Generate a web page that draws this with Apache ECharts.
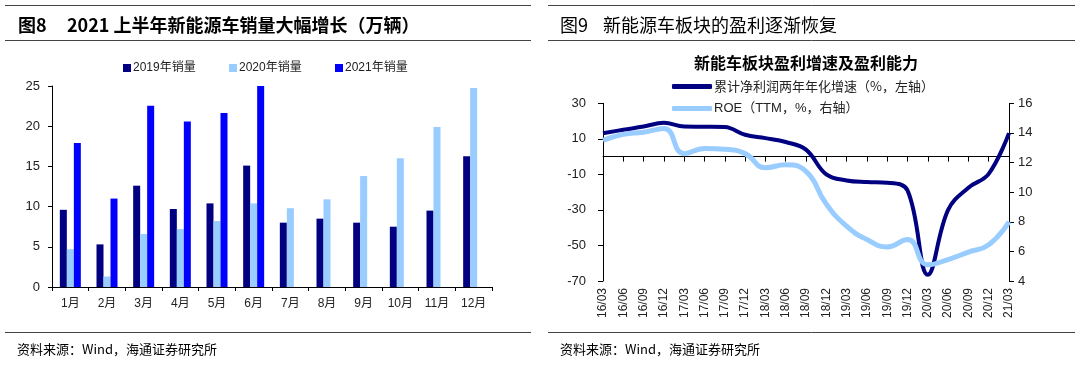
<!DOCTYPE html>
<html>
<head>
<meta charset="utf-8">
<script src="https://cdn.jsdelivr.net/npm/echarts@6/dist/echarts.min.js"></script>
<style>
html,body{margin:0;padding:0;background:#fff;}
#c{width:1080px;height:365px;}
</style>
</head>
<body>
<div id="c"></div>
<script>
// ---- Left chart data (万辆) ----
const months = ['1月','2月','3月','4月','5月','6月','7月','8月','9月','10月','11月','12月'];
const sales2019 = [9.6, 5.3, 12.6, 9.7, 10.4, 15.1, 8.0, 8.5, 8.0, 7.5, 9.5, 16.25];
const sales2020 = [4.7, 1.3, 6.6, 7.2, 8.2, 10.4, 9.8, 10.9, 13.8, 16.0, 19.9, 24.75];
const sales2021 = [17.9, 11.0, 22.55, 20.6, 21.65, 25.0, null, null, null, null, null, null];
const salesNames = ['2019年销量', '2020年销量', '2021年销量'];

// ---- Right chart data ----
const quarters = ['16/03','16/06','16/09','16/12','17/03','17/06','17/09','17/12','18/03','18/06','18/09','18/12','19/03','19/06','19/09','19/12','20/03','20/06','20/09','20/12','21/03'];
const profitGrowth = [13.2, 15.1, 16.9, 19.0, 16.9, 16.8, 16.6, 12.3, 10.4, 8.2, 3.9, -10.0, -13.4, -14.3, -14.7, -19.0, -66.5, -30.0, -17.5, -9.7, 13.2];
const roe = [13.5, 13.9, 14.05, 14.3, 12.6, 12.95, 12.9, 12.6, 11.65, 11.85, 11.4, 9.2, 7.7, 6.8, 6.3, 6.8, 5.1, 5.45, 5.95, 6.45, 8.0];
const lineNames = ['累计净利润两年年化增速（%，左轴）', 'ROE（TTM，%，右轴）'];

const FONT = '"Liberation Sans", Arial, "Noto Sans CJK SC", sans-serif';
const CJK = '"Noto Sans CJK SC", "Liberation Sans", sans-serif';

const chart = echarts.init(document.getElementById('c'), null, {renderer: 'canvas'});

function rule(x1, x2, y) {
  return {type: 'line', shape: {x1: x1, y1: y, x2: x2, y2: y}, style: {stroke: '#444', lineWidth: 1}, silent: true};
}
function txt(x, y, text, size, weight, align, family) {
  return {type: 'text', x: x, y: y, style: {text: text, fontSize: size, fontWeight: weight || 'normal', fill: '#000', align: align || 'left', verticalAlign: 'middle', fontFamily: family || CJK}, silent: true};
}

const axisLineBlack = {show: true, lineStyle: {color: '#000', width: 1}};

const option = {
  animation: false,
  backgroundColor: '#fff',
  textStyle: {fontFamily: FONT},
  graphic: [
    rule(5, 531, 5.5), rule(5, 531, 40.5), rule(5, 531, 332.5),
    rule(548, 1075, 5.5), rule(548, 1075, 40.5), rule(548, 1075, 332.5),
    txt(18, 25, '图8', 18, 'bold'),
    txt(67, 25, '2021 上半年新能源车销量大幅增长（万辆）', 18, 'bold'),
    txt(560, 25, '图9', 18, 'normal'),
    txt(603, 25, '新能源车板块的盈利逐渐恢复', 18, 'normal'),
    txt(806, 63, '新能车板块盈利增速及盈利能力', 16, 'bold', 'center'),
    txt(17, 349, '资料来源：Wind，海通证券研究所', 13, 'normal'),
    txt(560, 349, '资料来源：Wind，海通证券研究所', 13, 'normal')
  ],
  legend: [
    {data: [salesNames[0]], left: 118, top: 57, itemWidth: 8, itemHeight: 8, icon: 'rect', textStyle: {fontSize: 12, color: '#222', fontFamily: FONT, padding: [0,0,0,-3]}},
    {data: [salesNames[1]], left: 224, top: 57, itemWidth: 8, itemHeight: 8, icon: 'rect', textStyle: {fontSize: 12, color: '#222', fontFamily: FONT, padding: [0,0,0,-3]}},
    {data: [salesNames[2]], left: 330, top: 57, itemWidth: 8, itemHeight: 8, icon: 'rect', textStyle: {fontSize: 12, color: '#222', fontFamily: FONT, padding: [0,0,0,-3]}},
    {data: [lineNames[0]], left: 667, top: 75, itemWidth: 40, itemHeight: 5, icon: 'roundRect', textStyle: {fontSize: 13, color: '#222', fontFamily: CJK, padding: [0,0,0,-3]}},
    {data: [lineNames[1]], left: 667, top: 97, itemWidth: 40, itemHeight: 5, icon: 'roundRect', textStyle: {fontSize: 13, color: '#222', fontFamily: FONT, padding: [0,0,0,-3]}}
  ],
  grid: [
    {left: 52, top: 86, width: 440, height: 201, containLabel: false},
    {left: 603, top: 103.3, width: 406, height: 177.7, containLabel: false}
  ],
  xAxis: [
    {
      type: 'category', gridIndex: 0, data: months,
      axisLine: axisLineBlack,
      axisTick: {show: true, length: 4, lineStyle: {color: '#000'}},
      axisLabel: {fontSize: 12, color: '#222', margin: 11, interval: 0, fontFamily: FONT},
      splitLine: {show: false}
    },
    {
      type: 'category', gridIndex: 1, data: quarters, boundaryGap: false,
      axisLine: {show: true, onZero: true, lineStyle: {color: '#000', width: 1}},
      axisTick: {show: true, length: 5, interval: 0, lineStyle: {color: '#000'}},
      axisLabel: {show: false},
      splitLine: {show: false}
    },
    {
      type: 'category', gridIndex: 1, data: quarters, boundaryGap: false, position: 'bottom',
      axisLine: {show: false, onZero: false},
      axisTick: {show: false},
      axisLabel: {show: true, rotate: 90, fontSize: 12, color: '#222', margin: 7, interval: 0, fontFamily: FONT},
      splitLine: {show: false}
    }
  ],
  yAxis: [
    {
      type: 'value', gridIndex: 0, min: 0, max: 25, interval: 5,
      axisLine: axisLineBlack,
      axisTick: {show: true, length: 4, lineStyle: {color: '#000'}},
      axisLabel: {fontSize: 13, color: '#222', margin: 12, fontFamily: FONT},
      splitLine: {show: false}
    },
    {
      type: 'value', gridIndex: 1, min: -70, max: 30, interval: 20, position: 'left',
      axisLine: axisLineBlack,
      axisTick: {show: true, length: 5, lineStyle: {color: '#000'}},
      axisLabel: {fontSize: 13, color: '#222', margin: 17, fontFamily: FONT},
      splitLine: {show: false}
    },
    {
      type: 'value', gridIndex: 1, min: 4, max: 16, interval: 2, position: 'right',
      axisLine: axisLineBlack,
      axisTick: {show: true, length: 5, lineStyle: {color: '#000'}},
      axisLabel: {fontSize: 13, color: '#222', margin: 9, fontFamily: FONT},
      splitLine: {show: false}
    }
  ],
  series: [
    {name: salesNames[0], type: 'bar', xAxisIndex: 0, yAxisIndex: 0, data: sales2019, barWidth: 7, barGap: '0%', itemStyle: {color: '#000080'}},
    {name: salesNames[1], type: 'bar', xAxisIndex: 0, yAxisIndex: 0, data: sales2020, barWidth: 7, barGap: '0%', itemStyle: {color: '#99CCFF'}},
    {name: salesNames[2], type: 'bar', xAxisIndex: 0, yAxisIndex: 0, data: sales2021, barWidth: 7, barGap: '0%', itemStyle: {color: '#0000FF'}},
    {name: lineNames[0], type: 'line', xAxisIndex: 1, yAxisIndex: 1, data: profitGrowth, smooth: 0.4, showSymbol: false, symbol: 'none', lineStyle: {color: '#000080', width: 4}, itemStyle: {color: '#000080'}},
    {name: lineNames[1], type: 'line', xAxisIndex: 1, yAxisIndex: 2, data: roe, smooth: 0.5, showSymbol: false, symbol: 'none', lineStyle: {color: '#99CCFF', width: 5}, itemStyle: {color: '#99CCFF'}}
  ]
};
chart.setOption(option);
</script>
</body>
</html>
